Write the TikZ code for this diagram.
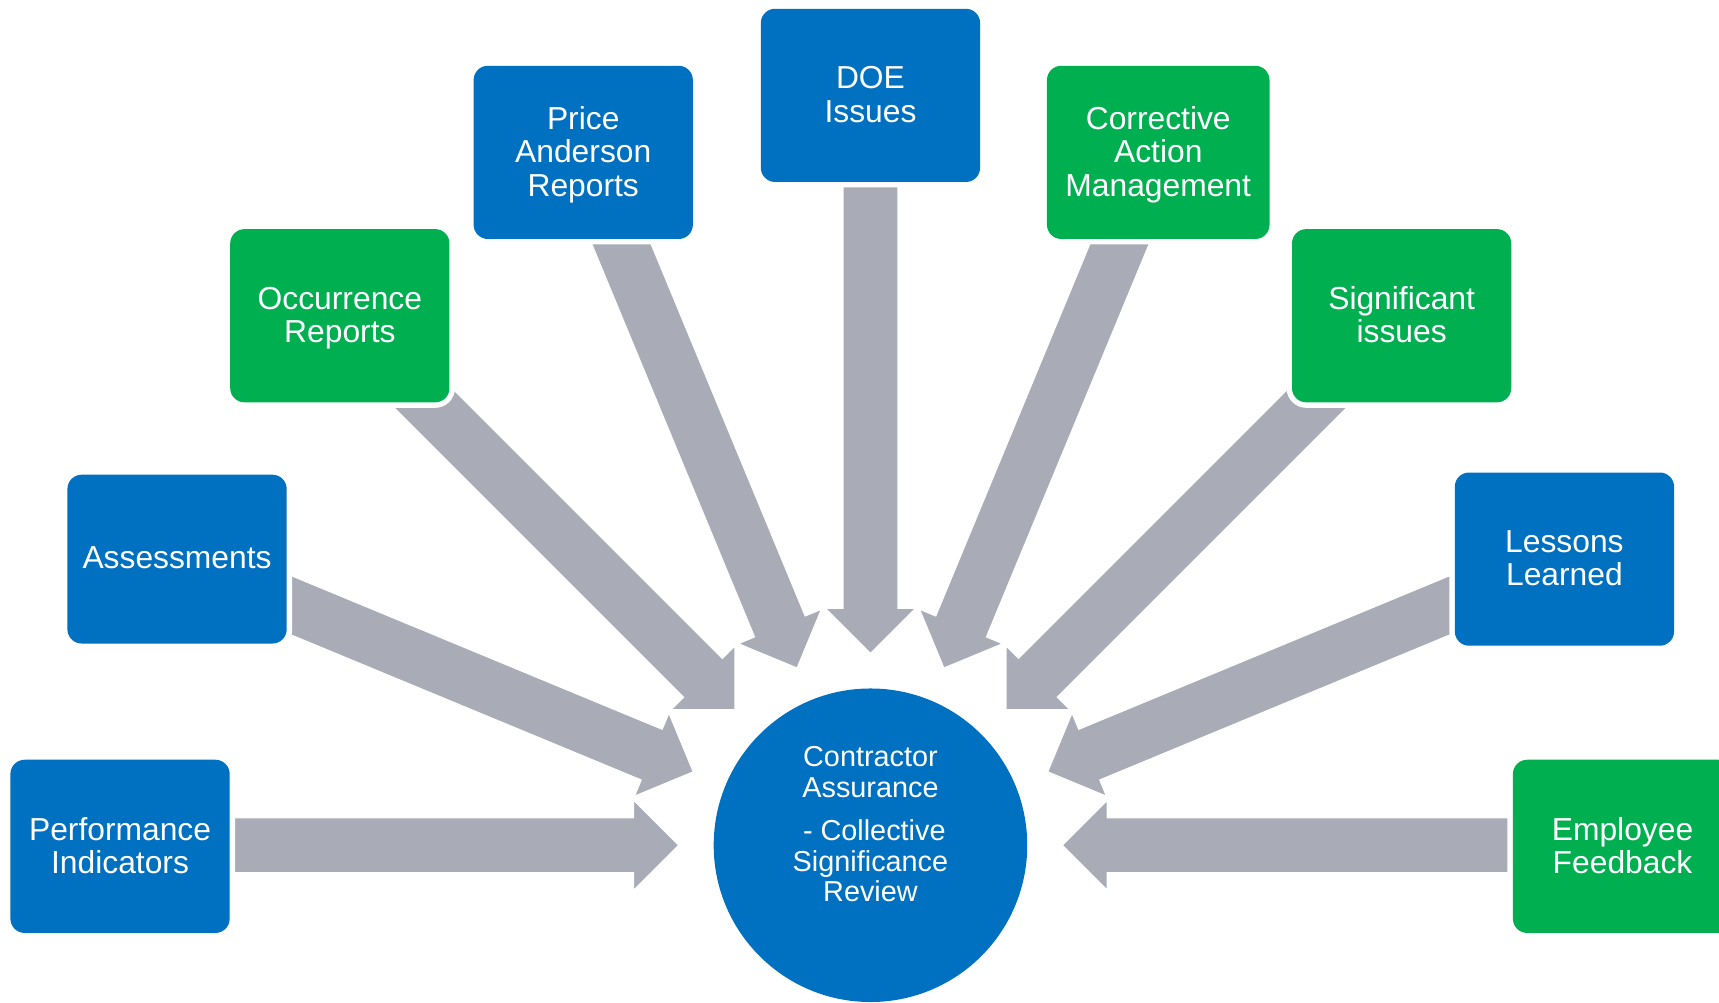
\documentclass[tikz,border=0pt]{standalone}
\usepackage{fontspec}
\setmainfont{Liberation Sans}
\definecolor{boxblue}{HTML}{0070C0}
\definecolor{boxgreen}{HTML}{00B050}
\definecolor{arrowgray}{HTML}{A9ABB7}

% block arrow pointing at the hub: #1 = direction of its tail, #2 = tail distance
\newcommand{\feedarrow}[2]{%
  \begin{scope}[shift={(hub.center)}, rotate=#1]
    \draw[flowarrow] (#2,25) -- (216,25) -- (216,41) -- (175,0)
      -- (216,-41) -- (216,-25) -- (#2,-25) -- cycle;
  \end{scope}}

\begin{document}
\begin{tikzpicture}[x=1pt, y=1pt,
  srcbox/.style={rounded corners=13pt, minimum width=200pt, minimum height=158pt,
    inner sep=0pt, text=white, align=center, text depth=2pt,
    font=\fontsize{29}{30.5}\selectfont,
    preaction={draw=white, line width=10pt}},
  bluebox/.style={srcbox, fill=boxblue},
  greenbox/.style={srcbox, fill=boxgreen},
  hubstyle/.style={circle, fill=boxblue, minimum size=286pt, inner sep=0pt},
  flowarrow/.style={fill=arrowgray, draw=white, line width=1pt, line join=miter}]

\useasboundingbox (0,0) rectangle (1568,914);

% central review circle
\node[hubstyle] (hub) at (794,143) {};
\node[text=white, align=center, font=\fontsize{26.3}{28}\selectfont] (hubtext) at (794,162)
  {Contractor\\Assurance\\[11pt]\hspace*{7pt}- Collective\\Significance\\Review};

% incoming arrows, one per source
\feedarrow{180}{650}
\feedarrow{157.5}{640}
\feedarrow{135}{620}
\feedarrow{112.5}{660}
\feedarrow{90}{680}
\feedarrow{67.5}{660}
\feedarrow{45}{620}
\feedarrow{22.5}{640}
\feedarrow{0}{650}

% source boxes
\node[bluebox]  (perf)   at (109.5,142) {Performance\\Indicators};
\node[bluebox, minimum height=154pt] (assess) at (161.5,404) {Assessments};
\node[greenbox] (occ)    at (310,626)   {Occurrence\\Reports};
\node[bluebox]  (pa)     at (532,775)   {Price\\Anderson\\Reports};
\node[bluebox]  (doe)    at (794,827)   {DOE\\Issues};
\node[greenbox, minimum width=203pt] (cam) at (1056.5,775) {Corrective\\Action\\Management};
\node[greenbox] (sig)    at (1278.5,626) {Significant\\issues};
\node[bluebox]  (lessons) at (1427,404)  {Lessons\\Learned};
\node[greenbox] (emp)    at (1480,142)  {Employee\\Feedback};
\end{tikzpicture}
\end{document}
